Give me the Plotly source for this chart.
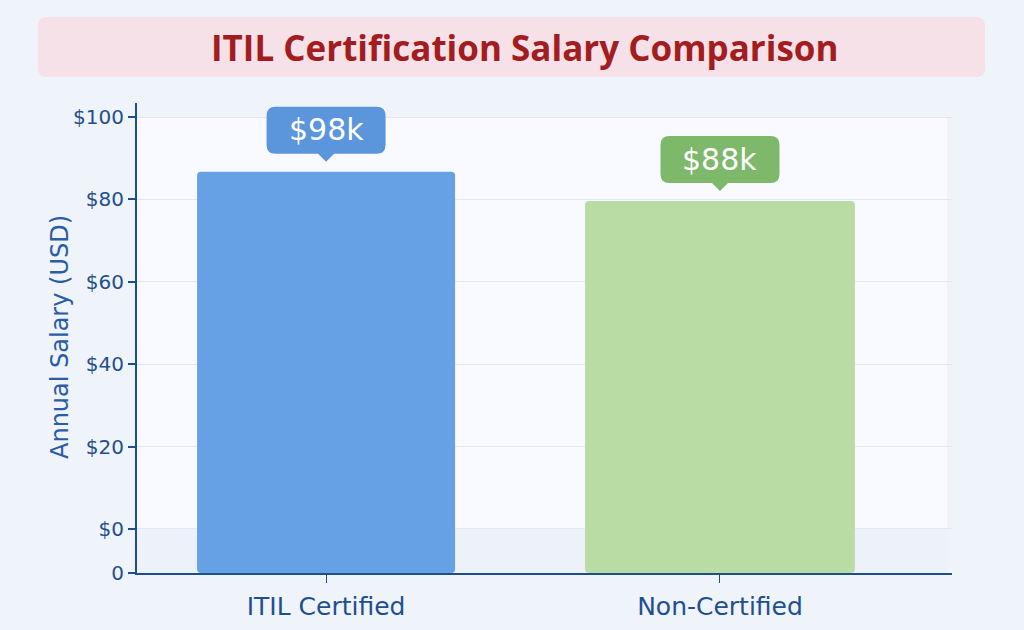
import plotly.graph_objects as go

# ---- data ----
categories = ["ITIL Certified", "Non-Certified"]
salary_labels_k = [98, 88]            # values printed in the callouts
bar_heights = [86.7, 79.6]            # bar tops as read against the y axis
y_tick_vals = [0, 20, 40, 60, 80, 100]
y_tick_text = ["$0", "$20", "$40", "$60", "$80", "$100"]
axis_bottom_label = "0"

# ---- styling ----
FONT = "DejaVu Sans"
PAGE_BG = "#eff3fa"
PLOT_BG = "#f8faff"
BAND_BG = "#edf1f9"
AXIS_COLOR = "#1f4e8c"
TEXT_BLUE = "#1f4f8f"
bar_colors = ["#66a1e6", "#b9dca5"]
callout_colors = ["#5b96dc", "#7db86b"]
bar_widths = [0.655, 0.685]

Y_MIN, Y_MAX = -10.7, 103.4

fig = go.Figure()
fig.add_trace(go.Bar(
    x=categories,
    y=[h - Y_MIN for h in bar_heights],
    base=Y_MIN,
    width=bar_widths,
    marker=dict(color=bar_colors, line=dict(width=0), cornerradius=4),
    hoverinfo="skip",
))

shapes = []
# whitish plot panel above $0
shapes.append(dict(type="rect", xref="x domain", yref="y", x0=0, x1=0.994, y0=0, y1=100,
                   fillcolor=PLOT_BG, line=dict(width=0), layer="below"))
# slightly darker band below $0
shapes.append(dict(type="rect", xref="x domain", yref="y", x0=0, x1=0.994, y0=Y_MIN, y1=0,
                   fillcolor=BAND_BG, line=dict(width=0), layer="below"))


def rounded_rect(w, b, t, r, pointer=None):
    hw = w / 2
    p = f"M {-hw + r},{b} "
    if pointer:
        pw, tip = pointer
        p += f"L {-pw},{b} L 0,{tip} L {pw},{b} "
    p += (f"L {hw - r},{b} Q {hw},{b} {hw},{b + r} L {hw},{t - r} Q {hw},{t} {hw - r},{t} "
          f"L {-hw + r},{t} Q {-hw},{t} {-hw},{t - r} L {-hw},{b + r} Q {-hw},{b} {-hw + r},{b} Z")
    return p


annotations = []
for i, (cat, h, lab) in enumerate(zip(categories, bar_heights, salary_labels_k)):
    shapes.append(dict(type="path", xref="x", yref="y", xsizemode="pixel", ysizemode="pixel",
                       xanchor=i, yanchor=h,
                       path=rounded_rect(119, 18, 65, 9, pointer=(8, 10)),
                       fillcolor=callout_colors[i], line=dict(width=0), layer="above"))
    annotations.append(dict(x=cat, y=h, xref="x", yref="y", yshift=42, showarrow=False,
                            text=f"${lab}k", font=dict(size=30, color="white", family=FONT),
                            xanchor="center", yanchor="middle"))

# title box
shapes.append(dict(type="path", xref="paper", yref="paper", xsizemode="pixel", ysizemode="pixel",
                   xanchor=(511.5 - 137) / 815, yanchor=(573 - 47) / 470,
                   path=rounded_rect(947, -30, 30, 9),
                   fillcolor="#f5e1e7", line=dict(width=0), layer="below"))
annotations.append(dict(x=(524 - 137) / 815, y=(573 - 47) / 470, xref="paper", yref="paper",
                        showarrow=False, text="<b>ITIL Certification Salary Comparison</b>",
                        font=dict(size=35, color="#a31c20", family="Open Sans"),
                        xanchor="center", yanchor="middle"))
# y axis title
annotations.append(dict(x=(60 - 137) / 815, y=(573 - 337) / 470, xref="paper", yref="paper",
                        showarrow=False, text="Annual Salary (USD)", textangle=-90,
                        font=dict(size=24, color="#2a5ca8", family=FONT),
                        xanchor="center", yanchor="middle"))

fig.update_layout(
    width=1024, height=630,
    margin=dict(l=137, r=72, t=103, b=57, autoexpand=False),
    paper_bgcolor=PAGE_BG,
    plot_bgcolor=PAGE_BG,
    showlegend=False,
    shapes=shapes,
    annotations=annotations,
    font=dict(family=FONT, color=TEXT_BLUE),
    xaxis=dict(
        type="category",
        range=[-0.48, 1.589],
        automargin=False,
        showline=True, linecolor=AXIS_COLOR, linewidth=2,
        ticks="outside", ticklen=8, tickcolor=AXIS_COLOR, tickwidth=1,
        tickfont=dict(size=25, color=TEXT_BLUE),
        ticklabelstandoff=2,
        showgrid=False, zeroline=False,
    ),
    yaxis=dict(
        range=[Y_MIN, Y_MAX],
        automargin=False,
        tickmode="array",
        tickvals=[Y_MIN] + y_tick_vals,
        ticktext=[axis_bottom_label] + y_tick_text,
        showline=True, linecolor=AXIS_COLOR, linewidth=2,
        ticks="outside", ticklen=7, tickcolor=AXIS_COLOR, tickwidth=2,
        tickfont=dict(size=20, color=TEXT_BLUE),
        showgrid=True, gridcolor="#e1e8f4", gridwidth=1,
        zeroline=False,
    ),
)

fig.write_html("out.html")
